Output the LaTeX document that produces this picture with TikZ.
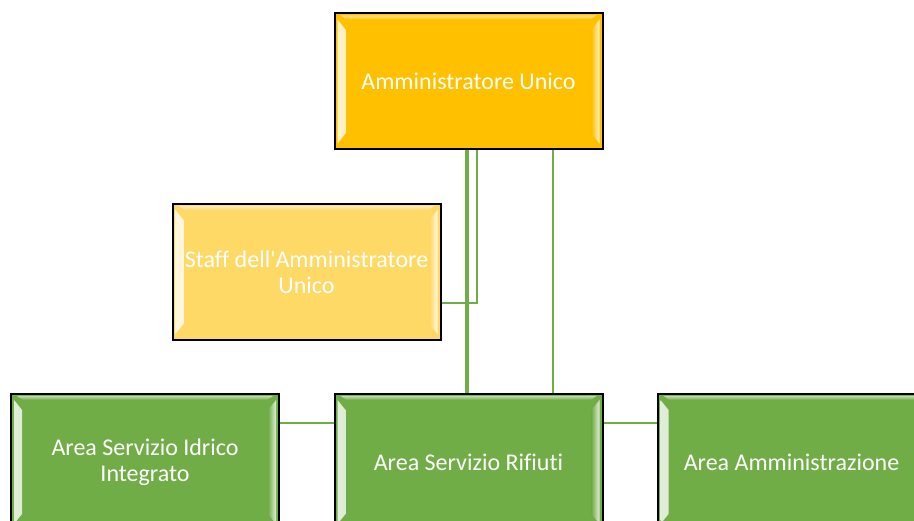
\documentclass[tikz,border=0pt]{standalone}
\usepackage{fontspec}
\setmainfont[Ligatures={NoCommon}]{Carlito}
\usetikzlibrary{calc}
\definecolor{gold}{HTML}{FFC000}
\definecolor{lightgold}{HTML}{FFD966}
\definecolor{leaf}{HTML}{70AD47}
\tikzset{
  orgbox/.style={draw=black, line width=2pt, fill=#1, minimum width=268pt,
    minimum height=136pt, inner sep=0pt, text=white, align=center,
    font=\fontsize{24}{26}\selectfont,
    path picture={
      \shade[left color=white!80!#1, right color=#1]
        ([xshift=3pt,yshift=-6pt]path picture bounding box.north west) --
        ([xshift=11pt,yshift=-16pt]path picture bounding box.north west) --
        ([xshift=11pt,yshift=16pt]path picture bounding box.south west) --
        ([xshift=3pt,yshift=6pt]path picture bounding box.south west) -- cycle;
      \shade[right color=white!80!#1, left color=#1]
        ([xshift=-3pt,yshift=-6pt]path picture bounding box.north east) --
        ([xshift=-11pt,yshift=-16pt]path picture bounding box.north east) --
        ([xshift=-11pt,yshift=16pt]path picture bounding box.south east) --
        ([xshift=-3pt,yshift=6pt]path picture bounding box.south east) -- cycle;
      \shade[top color=white!55!#1, bottom color=#1]
        ([xshift=6pt,yshift=-2pt]path picture bounding box.north west) --
        ([xshift=-6pt,yshift=-2pt]path picture bounding box.north east) --
        ([xshift=-12pt,yshift=-6pt]path picture bounding box.north east) --
        ([xshift=12pt,yshift=-6pt]path picture bounding box.north west) -- cycle;
    }},
  link/.style={draw=leaf, line width=2.5pt},
  mainlink/.style={draw=leaf, line width=3.5pt}
}
\begin{document}
\begin{tikzpicture}[x=1pt, y=-1pt]
  \useasboundingbox (0,0) rectangle (914,521);
  \clip (0,0) rectangle (914,521);

  % boxes of the chart
  \node[orgbox=gold] (au) at (468.5,81.5) {Amministratore Unico};
  \node[orgbox=lightgold] (staff) at (306.5,272) {Staff dell\textquotesingle Amministratore\\Unico};
  \node[orgbox=leaf] (idr) at (145,462) {Area Servizio Idrico\\Integrato};
  \node[orgbox=leaf] (rif) at (468.5,462) {Area Servizio Rifiuti};
  \node[orgbox=leaf] (amm) at (791.5,462) {Area Amministrazione};

  % reference points for the connector routes
  \coordinate (sj) at (477,303);
  \coordinate (ra) at (467,0);
  \coordinate (rb) at (553,0);
  \coordinate (hy) at (0,423);

  % connectors
  \draw[link] (au.south -| sj) -- (sj) -- (staff.east |- sj);
  \draw[mainlink] (au.south -| ra) -- (rif.north -| ra);
  \draw[link] (au.south -| rb) -- (rif.north -| rb);
  \draw[link] (idr.east |- hy) -- (rif.west |- hy);
  \draw[link] (rif.east |- hy) -- (amm.west |- hy);
\end{tikzpicture}
\end{document}
